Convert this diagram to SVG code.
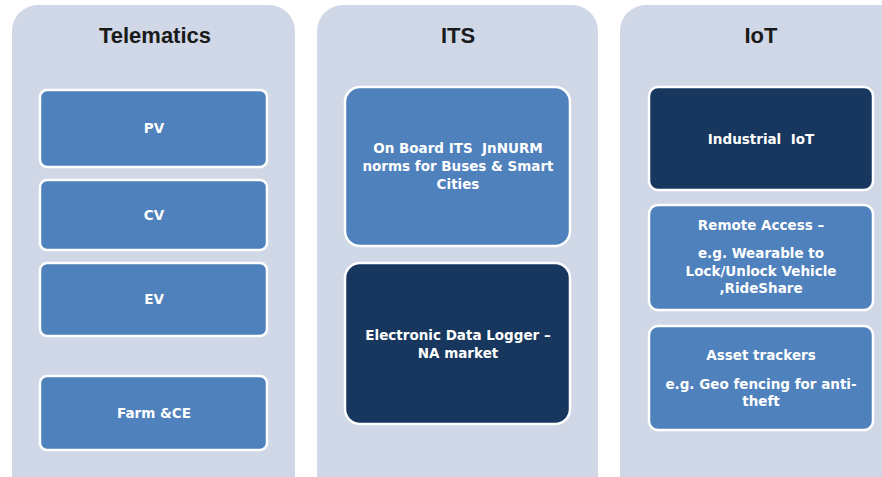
<svg xmlns="http://www.w3.org/2000/svg" width="882" height="477" viewBox="0 0 882 477">
<style>
.panel{fill:#d0d8e7}
.title{font-family:"Liberation Sans",Arial,sans-serif;font-size:22px;font-weight:bold;fill:#1a1a1a;text-anchor:middle}
.blue{fill:#4f81bd;stroke:#ffffff;stroke-width:2.5}
.navy{fill:#17375e;stroke:#ffffff;stroke-width:2.5}
.lbl{font-family:"DejaVu Sans","Liberation Sans",sans-serif;font-size:13.5px;font-weight:bold;fill:#ffffff;text-anchor:middle;white-space:pre}
</style>
<rect width="882" height="477" fill="#ffffff"/>
<g id="telematics">
<rect class="panel" x="12" y="5" width="283" height="500" rx="26"/>
<text class="title" x="155" y="43">Telematics</text>
</g>
<g id="its">
<rect class="panel" x="317" y="5" width="281" height="500" rx="26"/>
<text class="title" x="458" y="43">ITS</text>
</g>
<g id="iot">
<rect class="panel" x="620" y="5" width="290" height="500" rx="26"/>
<text class="title" x="761" y="43">IoT</text>
</g>
<g id="pv">
<rect class="blue" x="40" y="90" width="227" height="77" rx="7"/>
<text class="lbl" x="154" y="133">PV</text>
</g>
<g id="cv">
<rect class="blue" x="40" y="180" width="227" height="70" rx="7"/>
<text class="lbl" x="154" y="220">CV</text>
</g>
<g id="ev">
<rect class="blue" x="40" y="263" width="227" height="73" rx="7"/>
<text class="lbl" x="154" y="304">EV</text>
</g>
<g id="farm">
<rect class="blue" x="40" y="376" width="227" height="74" rx="7"/>
<text class="lbl" x="154" y="418">Farm &amp;CE</text>
</g>
<g id="onboard">
<rect class="blue" x="345" y="87" width="225" height="159" rx="15"/>
<text class="lbl" x="458" y="153">On Board ITS  JnNURM</text>
<text class="lbl" x="458" y="171">norms for Buses &amp; Smart</text>
<text class="lbl" x="458" y="189">Cities</text>
</g>
<g id="edl">
<rect class="navy" x="345" y="263" width="225" height="161" rx="15"/>
<text class="lbl" x="458" y="340">Electronic Data Logger –</text>
<text class="lbl" x="458" y="358">NA market</text>
</g>
<g id="iiot">
<rect class="navy" x="649" y="87" width="224" height="103" rx="9"/>
<text class="lbl" x="761" y="144">Industrial  IoT</text>
</g>
<g id="remote">
<rect class="blue" x="649" y="205" width="224" height="105" rx="9"/>
<text class="lbl" x="761" y="230">Remote Access –</text>
<text class="lbl" x="761" y="258">e.g. Wearable to</text>
<text class="lbl" x="761" y="276">Lock/Unlock Vehicle</text>
<text class="lbl" x="761" y="293">,RideShare</text>
</g>
<g id="asset">
<rect class="blue" x="649" y="326" width="224" height="104" rx="9"/>
<text class="lbl" x="761" y="360">Asset trackers</text>
<text class="lbl" x="761" y="389">e.g. Geo fencing for anti-</text>
<text class="lbl" x="761" y="406">theft</text>
</g>
<g id="connectors"></g>
</svg>
